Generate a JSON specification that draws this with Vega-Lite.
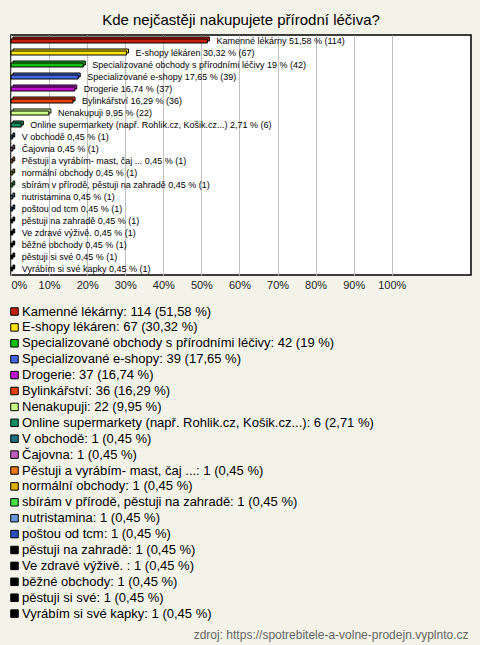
{
  "$schema": "https://vega.github.io/schema/vega-lite/v6.json",
  "width": 460,
  "height": 240,
  "autosize": "none",
  "padding": {"left": 11, "top": 35, "right": 9, "bottom": 370},
  "background": "#f4f3ea",
  "title": {"text": "Kde nejčastěji nakupujete přírodní léčiva?", "font": "Liberation Sans", "fontSize": 15, "fontWeight": "normal", "color": "#000000", "anchor": "middle", "offset": 7},
  "config": {"view": {"fill": "#ffffff", "stroke": "#000000", "strokeWidth": 1.5}},
  "data": {"values": [
    {"order": 1, "name": "Kamenné lékárny", "pct": 51.58, "bar": "Kamenné lékárny 51,58 % (114)", "leg": "Kamenné lékárny: 114 (51,58 %)"},
    {"order": 2, "name": "E-shopy lékáren", "pct": 30.32, "bar": "E-shopy lékáren 30,32 % (67)", "leg": "E-shopy lékáren: 67 (30,32 %)"},
    {"order": 3, "name": "Specializované obchody s přírodními léčivy", "pct": 19, "bar": "Specializované obchody s přírodními léčivy 19 % (42)", "leg": "Specializované obchody s přírodními léčivy: 42 (19 %)"},
    {"order": 4, "name": "Specializované e-shopy", "pct": 17.65, "bar": "Specializované e-shopy 17,65 % (39)", "leg": "Specializované e-shopy: 39 (17,65 %)"},
    {"order": 5, "name": "Drogerie", "pct": 16.74, "bar": "Drogerie 16,74 % (37)", "leg": "Drogerie: 37 (16,74 %)"},
    {"order": 6, "name": "Bylinkářství", "pct": 16.29, "bar": "Bylinkářství 16,29 % (36)", "leg": "Bylinkářství: 36 (16,29 %)"},
    {"order": 7, "name": "Nenakupuji", "pct": 9.95, "bar": "Nenakupuji 9,95 % (22)", "leg": "Nenakupuji: 22 (9,95 %)"},
    {"order": 8, "name": "Online supermarkety", "pct": 2.71, "bar": "Online supermarkety (např. Rohlik.cz, Košik.cz...) 2,71 % (6)", "leg": "Online supermarkety (např. Rohlik.cz, Košik.cz...): 6 (2,71 %)"},
    {"order": 9, "name": "V obchodě", "pct": 0.45, "bar": "V obchodě 0,45 % (1)", "leg": "V obchodě: 1 (0,45 %)"},
    {"order": 10, "name": "Čajovna", "pct": 0.45, "bar": "Čajovna 0,45 % (1)", "leg": "Čajovna: 1 (0,45 %)"},
    {"order": 11, "name": "Pěstuji a vyrábím", "pct": 0.45, "bar": "Pěstuji a vyrábím- mast, čaj ... 0,45 % (1)", "leg": "Pěstuji a vyrábím- mast, čaj ...: 1 (0,45 %)"},
    {"order": 12, "name": "normální obchody", "pct": 0.45, "bar": "normální obchody 0,45 % (1)", "leg": "normální obchody: 1 (0,45 %)"},
    {"order": 13, "name": "sbírám v přírodě", "pct": 0.45, "bar": "sbírám v přírodě, pěstuji na zahradě 0,45 % (1)", "leg": "sbírám v přírodě, pěstuji na zahradě: 1 (0,45 %)"},
    {"order": 14, "name": "nutristamina", "pct": 0.45, "bar": "nutristamina 0,45 % (1)", "leg": "nutristamina: 1 (0,45 %)"},
    {"order": 15, "name": "poštou od tcm", "pct": 0.45, "bar": "poštou od tcm 0,45 % (1)", "leg": "poštou od tcm: 1 (0,45 %)"},
    {"order": 16, "name": "pěstuji na zahradě", "pct": 0.45, "bar": "pěstuji na zahradě 0,45 % (1)", "leg": "pěstuji na zahradě: 1 (0,45 %)"},
    {"order": 17, "name": "Ve zdravé výživě.", "pct": 0.45, "bar": "Ve zdravé výživě.  0,45 % (1)", "leg": "Ve zdravé výživě. : 1 (0,45 %)"},
    {"order": 18, "name": "běžné obchody", "pct": 0.45, "bar": "běžné obchody 0,45 % (1)", "leg": "běžné obchody: 1 (0,45 %)"},
    {"order": 19, "name": "pěstuji si své", "pct": 0.45, "bar": "pěstuji si své 0,45 % (1)", "leg": "pěstuji si své: 1 (0,45 %)"},
    {"order": 20, "name": "Vyrábím si své kapky", "pct": 0.45, "bar": "Vyrábím si své kapky 0,45 % (1)", "leg": "Vyrábím si své kapky: 1 (0,45 %)"}
  ]},
  "encoding": {
    "y": {"field": "name", "type": "nominal", "sort": {"field": "order"}, "axis": null},
    "x": {"field": "pct", "type": "quantitative", "scale": {"domain": [0, 120.8], "nice": false},
      "axis": {"values": [0, 10, 20, 30, 40, 50, 60, 70, 80, 90, 100], "labelExpr": "datum.value + '%'", "grid": true, "gridColor": "#c0c0c0", "gridWidth": 1, "ticks": false, "domain": false, "labelFont": "Liberation Sans", "labelFontSize": 11, "labelColor": "#222222", "labelPadding": 4,
        "title": "zdroj: https://spotrebitele-a-volne-prodejn.vyplnto.cz", "titleX": 457, "titleY": 363, "titleAlign": "right", "titleBaseline": "alphabetic", "titleFont": "Liberation Sans", "titleFontSize": 12, "titleFontWeight": "normal", "titleColor": "#666666"}}
  },
  "layer": [
    {"mark": {"type": "bar", "size": 4, "xOffset": 2, "yOffset": -2, "stroke": "#000000", "strokeWidth": 1},
     "encoding": {"color": {"field": "leg", "type": "nominal",
        "scale": {"domain": ["Kamenné lékárny: 114 (51,58 %)", "E-shopy lékáren: 67 (30,32 %)", "Specializované obchody s přírodními léčivy: 42 (19 %)", "Specializované e-shopy: 39 (17,65 %)", "Drogerie: 37 (16,74 %)", "Bylinkářství: 36 (16,29 %)", "Nenakupuji: 22 (9,95 %)", "Online supermarkety (např. Rohlik.cz, Košik.cz...): 6 (2,71 %)", "V obchodě: 1 (0,45 %)", "Čajovna: 1 (0,45 %)", "Pěstuji a vyrábím- mast, čaj ...: 1 (0,45 %)", "normální obchody: 1 (0,45 %)", "sbírám v přírodě, pěstuji na zahradě: 1 (0,45 %)", "nutristamina: 1 (0,45 %)", "poštou od tcm: 1 (0,45 %)", "pěstuji na zahradě: 1 (0,45 %)", "Ve zdravé výživě. : 1 (0,45 %)", "běžné obchody: 1 (0,45 %)", "pěstuji si své: 1 (0,45 %)", "Vyrábím si své kapky: 1 (0,45 %)"],
          "range": ["#c8200e", "#ffe600", "#10c010", "#4466e0", "#c010d0", "#e8400c", "#ccff88", "#109060", "#1e7080", "#c060c0", "#e87818", "#e0b000", "#44e044", "#6a98e0", "#2a50c0", "#000000", "#000000", "#000000", "#000000", "#000000"]},
        "legend": {"orient": "none", "legendX": -3, "legendY": 270, "title": null, "padding": 0, "symbolType": "square", "symbolSize": 56, "symbolStrokeColor": "#000000", "symbolStrokeWidth": 1, "symbolOpacity": 1, "labelFont": "Liberation Sans", "labelFontSize": 13, "labelColor": "#000000", "labelLimit": 600, "labelOffset": 1, "rowPadding": 1.9}}}},
    {"mark": {"type": "bar", "size": 4, "stroke": "#000000", "strokeWidth": 1},
     "encoding": {"color": {"field": "leg", "type": "nominal"}}},
    {"mark": {"type": "text", "align": "left", "baseline": "middle", "dx": 9, "font": "Liberation Sans", "fontSize": 9, "color": "#000000"},
     "encoding": {"text": {"field": "bar"}}}
  ]
}
